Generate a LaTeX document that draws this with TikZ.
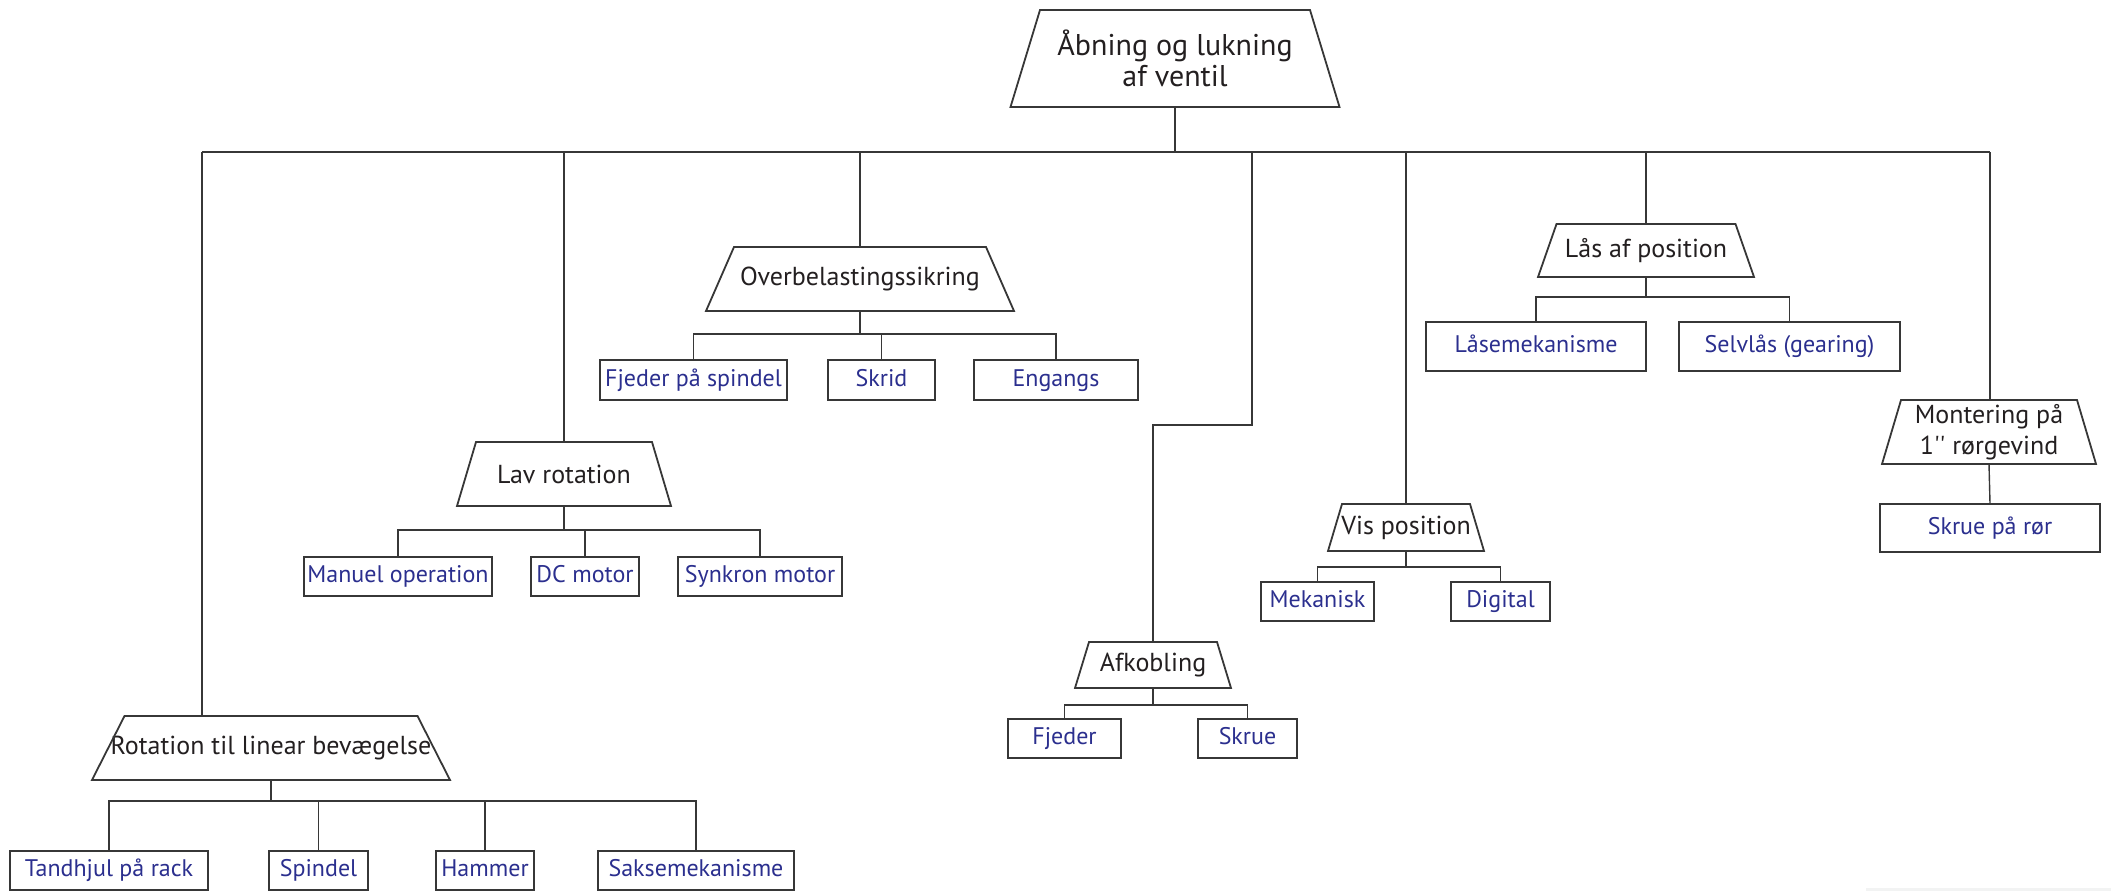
\documentclass[tikz,border=0pt]{standalone}
\usepackage{fontspec}
\setmainfont{PT Sans}
% same family without TeX quote ligatures, for the inch marks
\newfontfamily\ptplain{PT Sans}
\definecolor{labelblue}{RGB}{43,47,142}
\definecolor{labelblack}{RGB}{35,31,32}
\definecolor{linegray}{RGB}{55,55,55}
\definecolor{stripgray}{RGB}{242,243,243}

% trapezoid heading: name, centre x, top y, bottom y, bottom width, inset of top corners, text
\newcommand\trapz[7]{%
  \node[trapbox, minimum width=#5, minimum height={#4-#3}] (#1) at (#2,{(#3+#4)/2}) {#7};
  \draw[trapline] ([xshift=#6]#1.north west) -- ([xshift=-#6]#1.north east)
    -- (#1.south east) -- (#1.south west) -- cycle;
}
% leaf box: name, left x, right x, top y, bottom y, text
\newcommand\leafnode[6]{%
  \node[leaf, minimum width={#3-#2}, minimum height={#5-#4}] (#1) at ({(#2+#3)/2},{(#4+#5)/2}) {#6};
}

\begin{document}
\begin{tikzpicture}[x=1pt,y=-1pt,
  conn/.style={draw=linegray, line width=1.4pt},
  trapline/.style={draw=linegray, line width=1.8pt, line join=miter},
  trapbox/.style={inner sep=0pt, outer sep=0pt, text=labelblack, align=center,
    font=\fontsize{26}{31}\selectfont},
  leaf/.style={draw=linegray, line width=2pt, inner sep=0pt, outer sep=0pt, text=labelblue,
    font=\fontsize{24}{28}\selectfont, text height=17pt, text depth=5pt}]
\useasboundingbox (0,0) rectangle (2111,891);
\fill[stripgray] (1866,888) rectangle (2111,891);

% headings
\trapz{top}{1175}{10}{107}{329}{29.5}{\fontsize{30}{33}\selectfont Åbning og lukning\\\fontsize{30}{33}\selectfont af ventil}
\trapz{ovr}{860}{247}{311}{308}{28}{Overbelastingssikring}
\trapz{lav}{564}{442}{506}{214}{19}{Lav rotation}
\trapz{rot}{271}{716}{780}{358}{32.5}{Rotation til linear bevægelse}
\trapz{afk}{1153}{642}{688}{156}{14}{Afkobling}
\trapz{vis}{1406}{504}{551}{156}{14}{Vis position}
\trapz{las}{1646}{224}{277}{216}{18.5}{Lås af position}
\trapz{mon}{1989}{400}{464}{214}{19}{Montering på\\{\ptplain 1'' rørgevind}}

% leaves
\leafnode{fjs}{600}{787}{360}{400}{Fjeder på spindel}
\leafnode{skrid}{828}{935}{360}{400}{Skrid}
\leafnode{eng}{974}{1138}{360}{400}{Engangs}

\leafnode{man}{304}{492}{557}{596}{Manuel operation}
\leafnode{dc}{531}{639}{557}{596}{DC motor}
\leafnode{syn}{678}{842}{557}{596}{Synkron motor}

\leafnode{tand}{10}{208}{851}{890}{Tandhjul på rack}
\leafnode{spi}{269}{368}{851}{890}{Spindel}
\leafnode{ham}{436}{534}{851}{890}{Hammer}
\leafnode{saks}{598}{794}{851}{890}{Saksemekanisme}

\leafnode{fje}{1008}{1121}{719}{758}{Fjeder}
\leafnode{skr}{1198}{1297}{719}{758}{Skrue}

\leafnode{mek}{1261}{1374}{582}{621}{Mekanisk}
\leafnode{dig}{1451}{1550}{582}{621}{Digital}

\leafnode{lmek}{1426}{1646}{322}{371}{Låsemekanisme}
\leafnode{selv}{1679}{1900}{322}{371}{Selvlås (gearing)}

\leafnode{rør}{1880}{2100}{504}{552}{Skrue på rør}

% main distribution line
\coordinate (b1) at (202,152);
\coordinate (b2) at (564,152);
\coordinate (b3) at (860,152);
\coordinate (b4) at (1252,152);
\coordinate (b5) at (1406,152);
\coordinate (b6) at (1646,152);
\coordinate (b7) at (1990,152);
\coordinate (k4) at (1252,425);

\draw[conn] (top.south) -- (top.south |- b1);
\draw[conn] (b1) -- (b7);
\draw[conn] (b1) -- (b1 |- rot.north);
\draw[conn] (b2) -- (b2 |- lav.north);
\draw[conn] (b3) -- (b3 |- ovr.north);
\draw[conn] (b4) -- (k4) -| (afk.north);
\draw[conn] (b5) -- (b5 |- vis.north);
\draw[conn] (b6) -- (b6 |- las.north);
\draw[conn] (b7) -- (b7 |- mon.north);

% sub-trees
\coordinate (ovrbus) at (860,334);
\foreach \c in {fjs,skrid,eng} \draw[conn] (ovr.south) -- (ovrbus) -| (\c.north);
\coordinate (lavbus) at (564,530);
\foreach \c in {man,dc,syn} \draw[conn] (lav.south) -- (lavbus) -| (\c.north);
\coordinate (rotbus) at (271,801);
\foreach \c in {tand,spi,ham,saks} \draw[conn] (rot.south) -- (rotbus) -| (\c.north);
\coordinate (afkbus) at (1153,705);
\foreach \c in {fje,skr} \draw[conn] (afk.south) -- (afkbus) -| (\c.north);
\coordinate (visbus) at (1406,567);
\foreach \c in {mek,dig} \draw[conn] (vis.south) -- (visbus) -| (\c.north);
\coordinate (lasbus) at (1646,297);
\foreach \c in {lmek,selv} \draw[conn] (las.south) -- (lasbus) -| (\c.north);
\draw[conn] (mon.south) -- (rør.north);
\end{tikzpicture}
\end{document}
